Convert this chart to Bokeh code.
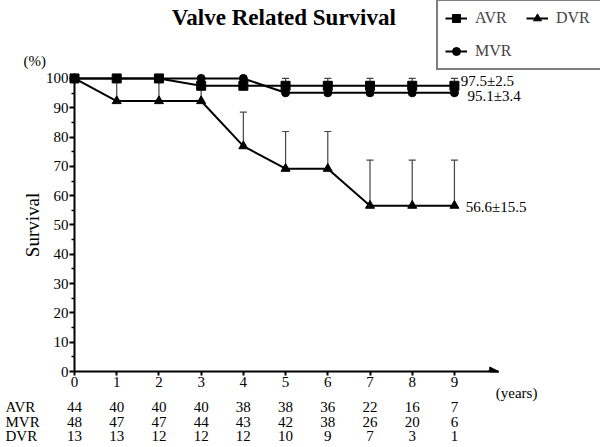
import math
from bokeh.plotting import figure
from bokeh.models import (Range1d, FixedTicker, ColumnDataSource, Whisker, TeeHead,
                          Legend, LegendItem, Arrow, NormalHead)
from bokeh.core.properties import value
from bokeh.embed import file_html
from bokeh.resources import INLINE

# ---------------- data ----------------
years = [0, 1, 2, 3, 4, 5, 6, 7, 8, 9]
avr = [100, 100, 100, 97.5, 97.5, 97.5, 97.5, 97.5, 97.5, 97.5]
mvr = [100, 100, 100, 100, 100, 95.1, 95.1, 95.1, 95.1, 95.1]
dvr = [100, 92.3, 92.3, 92.3, 76.9, 69.2, 69.2, 56.6, 56.6, 56.6]
avr_se = [0, 0, 0, 2.5, 2.5, 2.5, 2.5, 2.5, 2.5, 2.5]
mvr_se = [0, 0, 0, 0, 0, 3.4, 3.4, 3.4, 3.4, 3.4]
dvr_se = [0, 7.7, 7.7, 7.7, 11.6, 12.7, 12.7, 15.5, 15.5, 15.5]
risk_groups = ["AVR", "MVR", "DVR"]
risk_avr = [44, 40, 40, 40, 38, 38, 36, 22, 16, 7]
risk_mvr = [48, 47, 47, 44, 43, 42, 38, 26, 20, 6]
risk_dvr = [13, 13, 12, 12, 12, 10, 9, 7, 3, 1]
final_labels = ["97.5\u00b12.5", "95.1\u00b13.4", "56.6\u00b115.5"]
y_ticks = [0, 10, 20, 30, 40, 50, 60, 70, 80, 90, 100]
y_minor = [5, 15, 25, 35, 45, 55, 65, 75, 85, 95]
title_text = "Valve Related Survival"

FONT = "Liberation Serif"

# frame spans from the axes corner (74, 371) to the top-right of the page
p = figure(width=600, height=447, x_range=Range1d(0, 12.46), y_range=Range1d(0, 126.6),
           output_backend="svg", toolbar_location=None,
           min_border_left=74, min_border_right=0, min_border_top=0, min_border_bottom=76)
p.outline_line_color = None
p.grid.visible = False
p.background_fill_color = "white"
p.border_fill_color = "white"

# axes
xa = p.xaxis[0]
xa.ticker = FixedTicker(ticks=years)
xa.bounds = (0, 10.05)
xa.axis_line_width = 2
xa.major_tick_line_width = 2
xa.major_tick_out = 4
xa.major_tick_in = 0
xa.minor_tick_line_color = None
xa.major_label_text_font = FONT
xa.major_label_text_font_size = "15px"
xa.major_label_text_color = "black"
xa.major_label_standoff = 1

ya = p.yaxis[0]
ya.ticker = FixedTicker(ticks=y_ticks, minor_ticks=y_minor)
ya.bounds = (0, 100)
ya.axis_line_width = 2
ya.major_tick_line_width = 2
ya.major_tick_out = 5
ya.major_tick_in = 0
ya.minor_tick_out = 3
ya.minor_tick_in = 0
ya.minor_tick_line_width = 1.5
ya.major_label_text_font = FONT
ya.major_label_text_font_size = "15px"
ya.major_label_text_color = "black"
ya.major_label_standoff = 1

# arrow at end of x axis
p.add_layout(Arrow(x_start=9.8, y_start=0, x_end=10.05, y_end=0, line_width=2,
                   end=NormalHead(size=9, fill_color="black", line_color="black")))

# error bars (upper only)
def err_source(ys, se):
    xs, base, up = [], [], []
    for x, y, s in zip(years, ys, se):
        if s > 0:
            xs.append(x); base.append(y); up.append(y + s)
    return ColumnDataSource(dict(x=xs, y=base, upper=up))

for ys, se in [(mvr, mvr_se), (avr, avr_se), (dvr, dvr_se)]:
    p.add_layout(Whisker(source=err_source(ys, se), base="x", lower="y", upper="upper",
                         dimension="height", line_color="#444444", line_width=1.2,
                         upper_head=TeeHead(size=7, line_color="#444444", line_width=1.2),
                         lower_head=None))

# series
l_mvr = p.line(years, mvr, line_color="black", line_width=2)
s_mvr = p.scatter(years, mvr, marker="circle", size=8, color="black", level="overlay")
l_avr = p.line(years, avr, line_color="black", line_width=2)
s_avr = p.scatter(years, avr, marker="square", size=9, color="black", level="overlay")
l_dvr = p.line(years, dvr, line_color="black", line_width=2)
s_dvr = p.scatter(years, dvr, marker="triangle", size=9, color="black", level="overlay")

legend = Legend(items=[LegendItem(label="AVR", renderers=[l_avr, s_avr]),
                       LegendItem(label="MVR", renderers=[l_mvr, s_mvr]),
                       LegendItem(label="DVR", renderers=[l_dvr, s_dvr])],
                location=(362, 301), nrows=2, orientation="vertical",
                label_text_font=FONT, label_text_font_size="16px",
                glyph_width=22, glyph_height=20, label_standoff=8, spacing=13,
                label_width=38, padding=7, margin=0,
                border_line_color="black", border_line_width=2,
                background_fill_color="white", background_fill_alpha=1)
p.add_layout(legend, "center")

def txt(x, y, t, size="15px", align="center", baseline="middle", angle=0, style="normal"):
    p.text(x=x, y=y, text=t, text_font=value(FONT), text_font_size=size,
           text_align=align, text_baseline=baseline, angle=angle,
           text_font_style=style, text_color="black", level="overlay")

# title and axis annotations
txt([4.96], [120.8], [title_text], size="23px", style="bold")
txt([-0.94], [105.8], ["(%)"])
txt([-1.0], [50], ["Survival"], size="19px", angle=math.pi / 2)
txt([9.98], [-7.2], ["(years)"], align="left")

# final estimates
txt([9.15, 9.31, 9.27], [99.3, 93.9, 56.3], final_labels, size="15px", align="left")

# numbers at risk
row_y = [-12.2, -17.1, -22.0]
txt([-1.635] * 3, row_y, risk_groups, align="left")
for ry, counts in zip(row_y, [risk_avr, risk_mvr, risk_dvr]):
    txt(years, [ry] * len(years), [str(c) for c in counts])

open("out.html", "w").write(file_html(p, INLINE))
